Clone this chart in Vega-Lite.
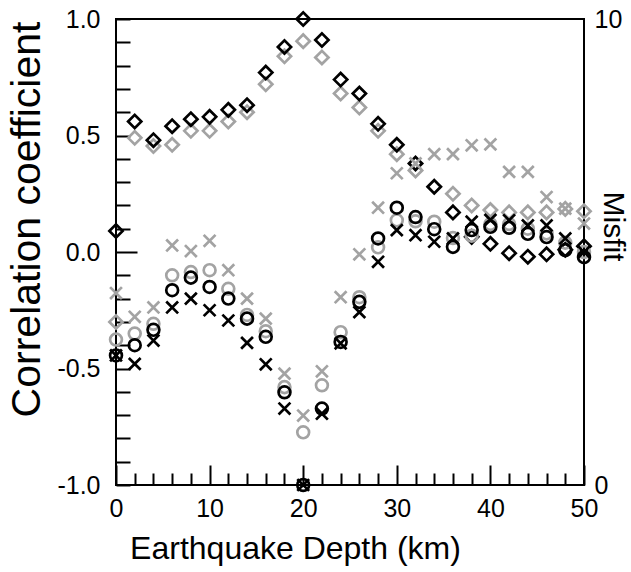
{
  "$schema": "https://vega.github.io/schema/vega-lite/v6.json",
  "width": 468,
  "height": 466,
  "autosize": {"type": "none"},
  "padding": {"left": 116, "top": 19, "right": 47, "bottom": 87},
  "background": "white",
  "config": {
    "view": {"stroke": "black", "strokeWidth": 2},
    "font": "Liberation Sans",
    "axis": {
      "domain": false,
      "grid": false,
      "labelFont": "Liberation Sans",
      "labelFontSize": 25,
      "labelColor": "black",
      "titleFont": "Liberation Sans",
      "titleFontWeight": "normal",
      "titleColor": "black",
      "tickColor": "black",
      "tickWidth": 2,
      "labelFlush": false,
      "labelOverlap": false
    }
  },
  "datasets": {
    "corr": [
      {"depth": 0, "run": "gray", "r": -0.30},
      {"depth": 2, "run": "gray", "r": 0.49},
      {"depth": 4, "run": "gray", "r": 0.455},
      {"depth": 6, "run": "gray", "r": 0.46},
      {"depth": 8, "run": "gray", "r": 0.52},
      {"depth": 10, "run": "gray", "r": 0.52},
      {"depth": 12, "run": "gray", "r": 0.56},
      {"depth": 14, "run": "gray", "r": 0.60},
      {"depth": 16, "run": "gray", "r": 0.72},
      {"depth": 18, "run": "gray", "r": 0.84},
      {"depth": 20, "run": "gray", "r": 0.905},
      {"depth": 22, "run": "gray", "r": 0.835},
      {"depth": 24, "run": "gray", "r": 0.68},
      {"depth": 26, "run": "gray", "r": 0.62},
      {"depth": 28, "run": "gray", "r": 0.52},
      {"depth": 30, "run": "gray", "r": 0.42},
      {"depth": 32, "run": "gray", "r": 0.35},
      {"depth": 34, "run": "gray", "r": 0.28},
      {"depth": 36, "run": "gray", "r": 0.25},
      {"depth": 38, "run": "gray", "r": 0.20},
      {"depth": 40, "run": "gray", "r": 0.18},
      {"depth": 42, "run": "gray", "r": 0.17},
      {"depth": 44, "run": "gray", "r": 0.17},
      {"depth": 46, "run": "gray", "r": 0.17},
      {"depth": 48, "run": "gray", "r": 0.185},
      {"depth": 50, "run": "gray", "r": 0.175},
      {"depth": 0, "run": "black", "r": 0.09},
      {"depth": 2, "run": "black", "r": 0.56},
      {"depth": 4, "run": "black", "r": 0.48},
      {"depth": 6, "run": "black", "r": 0.54},
      {"depth": 8, "run": "black", "r": 0.57},
      {"depth": 10, "run": "black", "r": 0.58},
      {"depth": 12, "run": "black", "r": 0.61},
      {"depth": 14, "run": "black", "r": 0.63},
      {"depth": 16, "run": "black", "r": 0.77},
      {"depth": 18, "run": "black", "r": 0.88},
      {"depth": 20, "run": "black", "r": 1.0},
      {"depth": 22, "run": "black", "r": 0.91},
      {"depth": 24, "run": "black", "r": 0.74},
      {"depth": 26, "run": "black", "r": 0.68},
      {"depth": 28, "run": "black", "r": 0.55},
      {"depth": 30, "run": "black", "r": 0.46},
      {"depth": 32, "run": "black", "r": 0.38},
      {"depth": 34, "run": "black", "r": 0.28},
      {"depth": 36, "run": "black", "r": 0.17},
      {"depth": 38, "run": "black", "r": 0.065},
      {"depth": 40, "run": "black", "r": 0.035},
      {"depth": 42, "run": "black", "r": -0.005},
      {"depth": 44, "run": "black", "r": -0.02},
      {"depth": 46, "run": "black", "r": -0.01},
      {"depth": 48, "run": "black", "r": 0.01},
      {"depth": 50, "run": "black", "r": 0.025}
    ],
    "misfit": [
      {"depth": 0, "run": "gray", "stat": "circle", "m": 3.12},
      {"depth": 2, "run": "gray", "stat": "circle", "m": 3.25},
      {"depth": 4, "run": "gray", "stat": "circle", "m": 3.46},
      {"depth": 6, "run": "gray", "stat": "circle", "m": 4.50},
      {"depth": 8, "run": "gray", "stat": "circle", "m": 4.57},
      {"depth": 10, "run": "gray", "stat": "circle", "m": 4.61},
      {"depth": 12, "run": "gray", "stat": "circle", "m": 4.21},
      {"depth": 14, "run": "gray", "stat": "circle", "m": 3.65},
      {"depth": 16, "run": "gray", "stat": "circle", "m": 3.30},
      {"depth": 18, "run": "gray", "stat": "circle", "m": 2.10},
      {"depth": 20, "run": "gray", "stat": "circle", "m": 1.13},
      {"depth": 22, "run": "gray", "stat": "circle", "m": 2.14},
      {"depth": 24, "run": "gray", "stat": "circle", "m": 3.28},
      {"depth": 26, "run": "gray", "stat": "circle", "m": 4.03},
      {"depth": 28, "run": "gray", "stat": "circle", "m": 5.10},
      {"depth": 30, "run": "gray", "stat": "circle", "m": 5.68},
      {"depth": 32, "run": "gray", "stat": "circle", "m": 5.66},
      {"depth": 34, "run": "gray", "stat": "circle", "m": 5.65},
      {"depth": 36, "run": "gray", "stat": "circle", "m": 5.30},
      {"depth": 38, "run": "gray", "stat": "circle", "m": 5.35},
      {"depth": 40, "run": "gray", "stat": "circle", "m": 5.60},
      {"depth": 42, "run": "gray", "stat": "circle", "m": 5.60},
      {"depth": 44, "run": "gray", "stat": "circle", "m": 5.50},
      {"depth": 46, "run": "gray", "stat": "circle", "m": 5.40},
      {"depth": 48, "run": "gray", "stat": "circle", "m": 5.20},
      {"depth": 50, "run": "gray", "stat": "circle", "m": 5.00},
      {"depth": 0, "run": "gray", "stat": "cross", "m": 4.12},
      {"depth": 2, "run": "gray", "stat": "cross", "m": 3.61},
      {"depth": 4, "run": "gray", "stat": "cross", "m": 3.81},
      {"depth": 6, "run": "gray", "stat": "cross", "m": 5.14},
      {"depth": 8, "run": "gray", "stat": "cross", "m": 5.02},
      {"depth": 10, "run": "gray", "stat": "cross", "m": 5.24},
      {"depth": 12, "run": "gray", "stat": "cross", "m": 4.61},
      {"depth": 14, "run": "gray", "stat": "cross", "m": 4.00},
      {"depth": 16, "run": "gray", "stat": "cross", "m": 3.57},
      {"depth": 18, "run": "gray", "stat": "cross", "m": 2.39},
      {"depth": 20, "run": "gray", "stat": "cross", "m": 1.49},
      {"depth": 22, "run": "gray", "stat": "cross", "m": 2.44},
      {"depth": 24, "run": "gray", "stat": "cross", "m": 4.03},
      {"depth": 26, "run": "gray", "stat": "cross", "m": 4.95},
      {"depth": 28, "run": "gray", "stat": "cross", "m": 5.95},
      {"depth": 30, "run": "gray", "stat": "cross", "m": 6.69},
      {"depth": 32, "run": "gray", "stat": "cross", "m": 6.90},
      {"depth": 34, "run": "gray", "stat": "cross", "m": 7.10},
      {"depth": 36, "run": "gray", "stat": "cross", "m": 7.10},
      {"depth": 38, "run": "gray", "stat": "cross", "m": 7.29},
      {"depth": 40, "run": "gray", "stat": "cross", "m": 7.31},
      {"depth": 42, "run": "gray", "stat": "cross", "m": 6.72},
      {"depth": 44, "run": "gray", "stat": "cross", "m": 6.72},
      {"depth": 46, "run": "gray", "stat": "cross", "m": 6.18},
      {"depth": 48, "run": "gray", "stat": "cross", "m": 5.93},
      {"depth": 50, "run": "gray", "stat": "cross", "m": 5.61},
      {"depth": 0, "run": "black", "stat": "circle", "m": 2.78},
      {"depth": 2, "run": "black", "stat": "circle", "m": 3.00},
      {"depth": 4, "run": "black", "stat": "circle", "m": 3.33},
      {"depth": 6, "run": "black", "stat": "circle", "m": 4.18},
      {"depth": 8, "run": "black", "stat": "circle", "m": 4.45},
      {"depth": 10, "run": "black", "stat": "circle", "m": 4.25},
      {"depth": 12, "run": "black", "stat": "circle", "m": 4.00},
      {"depth": 14, "run": "black", "stat": "circle", "m": 3.57},
      {"depth": 16, "run": "black", "stat": "circle", "m": 3.18},
      {"depth": 18, "run": "black", "stat": "circle", "m": 1.99},
      {"depth": 20, "run": "black", "stat": "circle", "m": 0.0},
      {"depth": 22, "run": "black", "stat": "circle", "m": 1.64},
      {"depth": 24, "run": "black", "stat": "circle", "m": 3.07},
      {"depth": 26, "run": "black", "stat": "circle", "m": 3.93},
      {"depth": 28, "run": "black", "stat": "circle", "m": 5.29},
      {"depth": 30, "run": "black", "stat": "circle", "m": 5.95},
      {"depth": 32, "run": "black", "stat": "circle", "m": 5.75},
      {"depth": 34, "run": "black", "stat": "circle", "m": 5.49},
      {"depth": 36, "run": "black", "stat": "circle", "m": 5.11},
      {"depth": 38, "run": "black", "stat": "circle", "m": 5.47},
      {"depth": 40, "run": "black", "stat": "circle", "m": 5.54},
      {"depth": 42, "run": "black", "stat": "circle", "m": 5.52},
      {"depth": 44, "run": "black", "stat": "circle", "m": 5.39},
      {"depth": 46, "run": "black", "stat": "circle", "m": 5.32},
      {"depth": 48, "run": "black", "stat": "circle", "m": 5.04},
      {"depth": 50, "run": "black", "stat": "circle", "m": 4.89},
      {"depth": 0, "run": "black", "stat": "cross", "m": 2.78},
      {"depth": 2, "run": "black", "stat": "cross", "m": 2.60},
      {"depth": 4, "run": "black", "stat": "cross", "m": 3.10},
      {"depth": 6, "run": "black", "stat": "cross", "m": 3.81},
      {"depth": 8, "run": "black", "stat": "cross", "m": 4.00},
      {"depth": 10, "run": "black", "stat": "cross", "m": 3.75},
      {"depth": 12, "run": "black", "stat": "cross", "m": 3.53},
      {"depth": 14, "run": "black", "stat": "cross", "m": 3.05},
      {"depth": 16, "run": "black", "stat": "cross", "m": 2.59},
      {"depth": 18, "run": "black", "stat": "cross", "m": 1.64},
      {"depth": 20, "run": "black", "stat": "cross", "m": 0.0},
      {"depth": 22, "run": "black", "stat": "cross", "m": 1.53},
      {"depth": 24, "run": "black", "stat": "cross", "m": 3.04},
      {"depth": 26, "run": "black", "stat": "cross", "m": 3.71},
      {"depth": 28, "run": "black", "stat": "cross", "m": 4.79},
      {"depth": 30, "run": "black", "stat": "cross", "m": 5.47},
      {"depth": 32, "run": "black", "stat": "cross", "m": 5.36},
      {"depth": 34, "run": "black", "stat": "cross", "m": 5.22},
      {"depth": 36, "run": "black", "stat": "cross", "m": 5.29},
      {"depth": 38, "run": "black", "stat": "cross", "m": 5.65},
      {"depth": 40, "run": "black", "stat": "cross", "m": 5.69},
      {"depth": 42, "run": "black", "stat": "cross", "m": 5.68},
      {"depth": 44, "run": "black", "stat": "cross", "m": 5.57},
      {"depth": 46, "run": "black", "stat": "cross", "m": 5.57},
      {"depth": 48, "run": "black", "stat": "cross", "m": 5.29},
      {"depth": 50, "run": "black", "stat": "cross", "m": 5.00}
    ]
  },
  "encoding": {
    "x": {
      "field": "depth",
      "type": "quantitative",
      "scale": {"domain": [0, 50], "nice": false, "zero": false},
      "axis": {
        "values": [0, 2, 4, 6, 8, 10, 12, 14, 16, 18, 20, 22, 24, 26, 28, 30, 32, 34, 36, 38, 40, 42, 44, 46, 48, 50],
        "tickSize": {"condition": {"test": "round(datum.value / 10) * 10 == datum.value", "value": -20}, "value": -12},
        "labelExpr": "round(datum.value / 10) * 10 == datum.value ? '' + datum.value : ''",
        "labelOverlap": false,
        "labelFlush": false,
        "labelBound": false,
        "labelPadding": 31,
        "title": "Earthquake Depth (km)",
        "titleFontSize": 32,
        "titleX": 179,
        "titleY": 73,
        "titleAlign": "center",
        "titleBaseline": "alphabetic"
      }
    },
    "stroke": {
      "field": "run",
      "type": "nominal",
      "scale": {"domain": ["gray", "black"], "range": ["#a3a3a3", "#000000"]},
      "legend": null
    }
  },
  "layer": [
    {
      "data": {"name": "corr"},
      "mark": {"type": "point", "shape": "diamond", "filled": false, "size": 175, "strokeWidth": 2.7, "opacity": 1},
      "encoding": {
        "y": {
          "field": "r",
          "type": "quantitative",
          "scale": {"domain": [-1, 1], "nice": false, "zero": false},
          "axis": {
            "values": [-1, -0.9, -0.8, -0.7, -0.6, -0.5, -0.4, -0.3, -0.2, -0.1, 0, 0.1, 0.2, 0.3, 0.4, 0.5, 0.6, 0.7, 0.8, 0.9, 1],
            "tickSize": {"condition": {"test": "abs(datum.value) < 0.001", "value": -21}, "value": -14},
            "labelExpr": "abs(datum.value * 2 - round(datum.value * 2)) < 0.001 ? replace(format(datum.value, '.1f'), '\u2212', '-') : ''",
            "labelOverlap": false,
            "labelPadding": {"condition": {"test": "abs(datum.value) < 0.001", "value": 37}, "value": 30},
            "title": "Correlation coefficient",
            "titleFontSize": 41,
            "titleAngle": -90,
            "titleX": -89,
            "titleY": 200,
            "titleAlign": "center",
            "titleBaseline": "middle"
          }
        }
      }
    },
    {
      "data": {"name": "misfit"},
      "mark": {"type": "point", "filled": false, "size": 140, "strokeWidth": 2.7, "opacity": 1},
      "encoding": {
        "y": {
          "field": "m",
          "type": "quantitative",
          "scale": {"domain": [0, 10], "nice": false, "zero": false},
          "axis": {
            "orient": "right",
            "values": [0, 10],
            "ticks": false,
            "labelOverlap": false,
            "labelPadding": 10,
            "title": "Misfit",
            "titleFontSize": 30,
            "titleAngle": 90,
            "titleX": 28,
            "titleY": 207,
            "titleAlign": "center",
            "titleBaseline": "middle"
          }
        },
        "shape": {
          "field": "stat",
          "type": "nominal",
          "scale": {"domain": ["circle", "cross"], "range": ["circle", "M-1,-1L1,1M-1,1L1,-1"]},
          "legend": null
        }
      }
    }
  ],
  "resolve": {"scale": {"y": "independent"}, "axis": {"y": "independent"}}
}
